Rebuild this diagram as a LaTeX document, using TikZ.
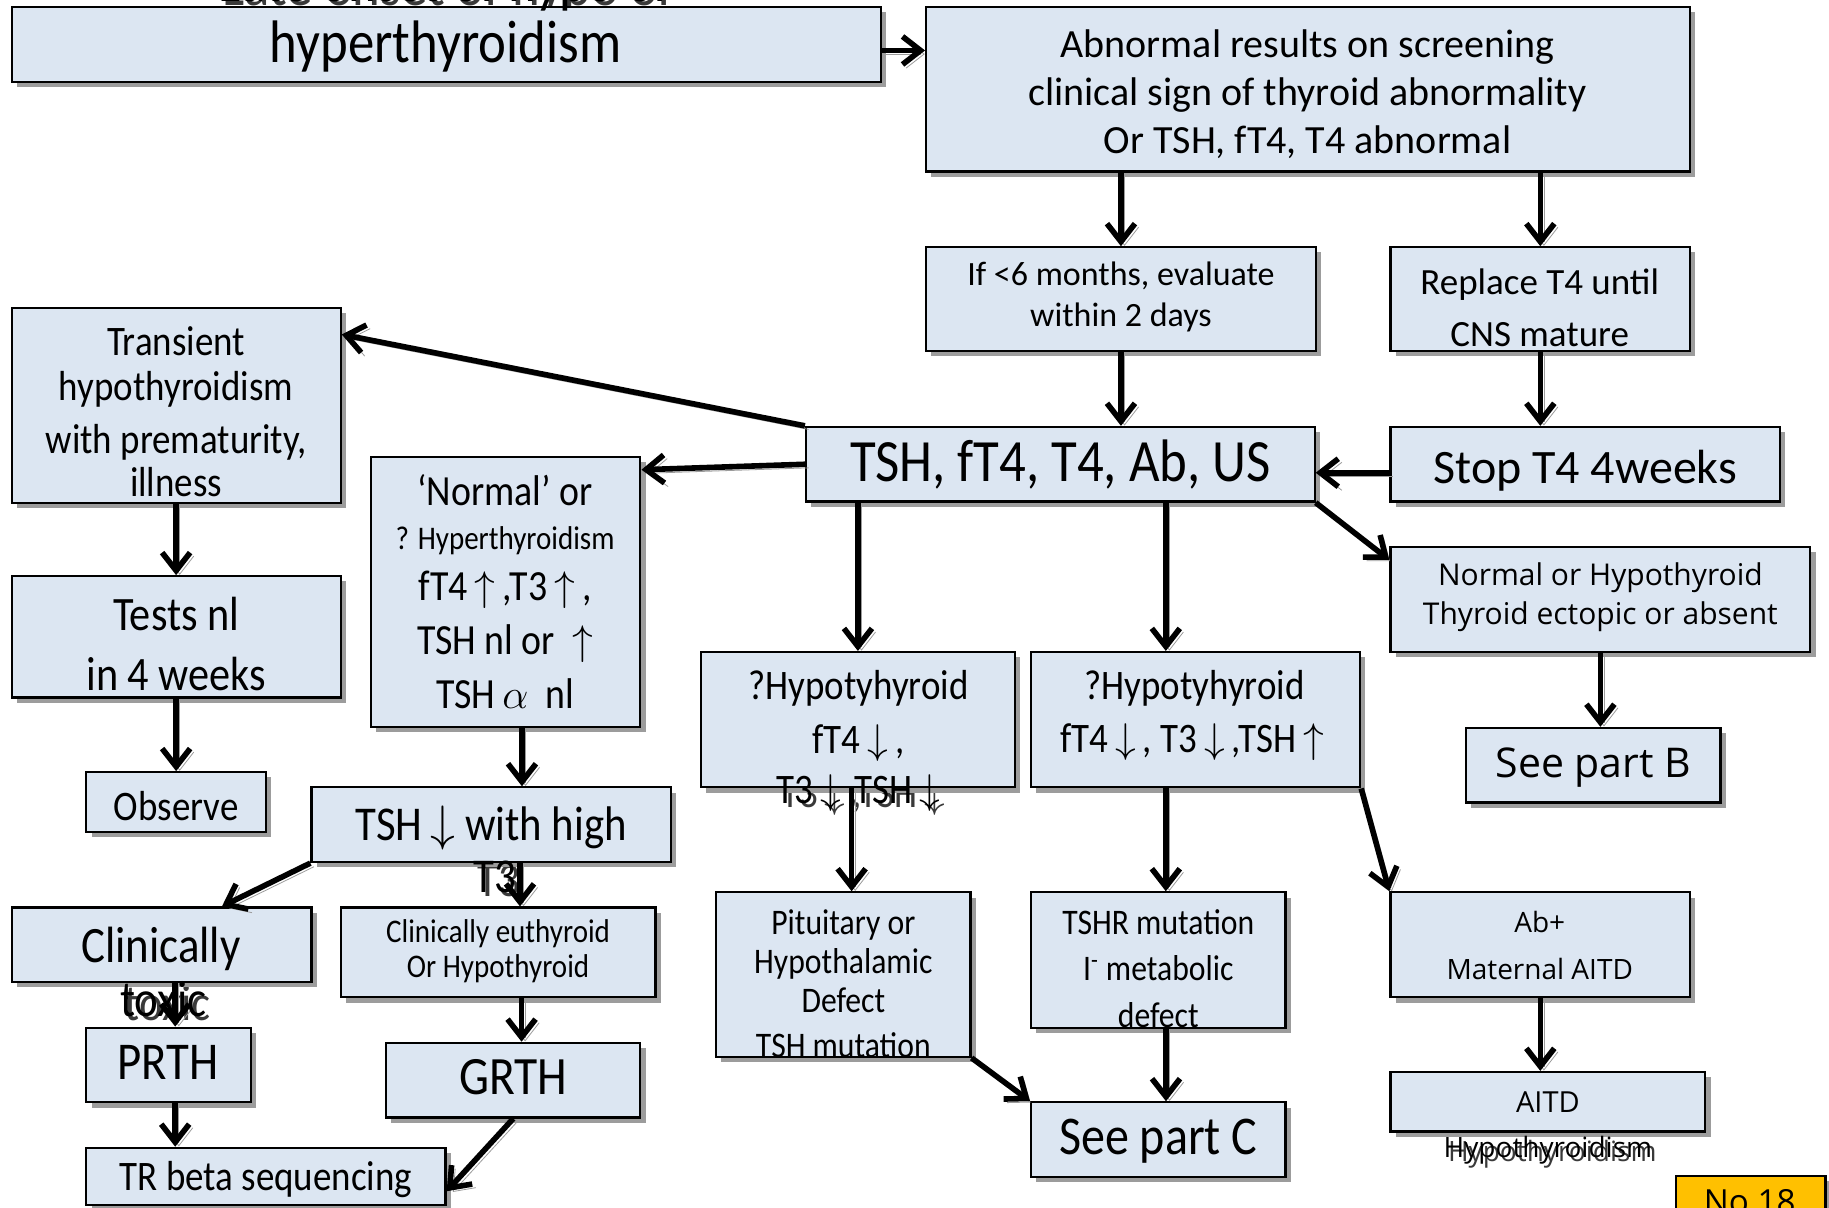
\documentclass[tikz,border=0pt]{standalone}
\usepackage{fontspec}
\setmainfont{Carlito}
\newfontfamily\condfont[FakeStretch=0.88]{Carlito}
\newfontfamily\widefont{Open Sans}
\usetikzlibrary{arrows.meta,shadows,fit,calc}
\definecolor{boxfill}{HTML}{DCE6F2}
\definecolor{boxshade}{HTML}{9C9C9C}
\definecolor{txtshade}{HTML}{3A3A3A}
\definecolor{badge}{HTML}{FFC000}
\pgfdeclarelayer{paper}
\pgfdeclarelayer{shade}
\pgfdeclarelayer{front}
\pgfsetlayers{paper,shade,main,front}

\tikzset{
  card/.style={draw=black, line width=1.1pt, fill=boxfill, inner sep=0pt,
    drop shadow={shadow xshift=2.6pt, shadow yshift=-2.6pt, fill=boxshade, opacity=1}},
  tl/.style={anchor=mid, inner sep=0pt},
  cnd/.style={font=\condfont\fontsize{#1}{#1}\selectfont, yshift={-0.22*#1pt}},
  pln/.style={font=\fontsize{#1}{#1}\selectfont, yshift={-0.22*#1pt}},
  wid/.style={font=\widefont\fontsize{#1}{#1}\selectfont, yshift={-0.22*#1pt}},
  link/.style={line width=2.8pt, -{Straight Barb[length=9pt,width=14pt]},
    preaction={draw=boxshade, transform canvas={shift={(1.8pt,-1.8pt)}}}},
}

% a box spanning two corners
\newcommand\cardbox[6][]{\node[card,#1,fit={(#3,#4) (#5,#6)}] (#2) {};}
% one line of text with its offset shadow underneath
\newcommand\tline[5][]{%
  \begin{pgfonlayer}{shade}
    \node[tl,#1,text=txtshade,xshift=2.2pt,yshift=-1.8pt] (#2-s) at (#3,#4) {#5};
  \end{pgfonlayer}
  \begin{pgfonlayer}{front}
    \node[tl,#1] (#2) at (#3,#4) {#5};
  \end{pgfonlayer}}

\begin{document}
\begin{tikzpicture}[x=0.5833pt,y=-0.5833pt]
\useasboundingbox (0,0) rectangle (1568,1035);
\begin{pgfonlayer}{paper}
  \fill[white] (0,0) rectangle (1568,1035);
\end{pgfonlayer}

% ---------- boxes ----------
\cardbox{A}{10}{6}{755}{70}
\cardbox{B}{794}{6}{1449}{147}
\cardbox{C}{794}{212}{1128}{301}
\cardbox{D}{1192}{212}{1449}{301}
\cardbox{E}{691}{366}{1127}{430}
\cardbox{F}{1192}{366}{1526}{430}
\cardbox{G}{10}{264}{292}{431}
\cardbox{H}{318}{392}{549}{623}
\cardbox{I}{10}{494}{292}{598}
\cardbox{J}{1192}{469}{1552}{559}
\cardbox{K}{601}{559}{870}{675}
\cardbox{L}{884}{559}{1166}{675}
\cardbox{M}{1257}{624}{1475}{688}
\cardbox{N}{74}{662}{228}{713}
\cardbox{O}{267}{675}{575}{739}
\cardbox{P}{10}{778}{267}{842}
\cardbox{Q}{292}{778}{562}{855}
\cardbox{R}{74}{881}{215}{945}
\cardbox{S}{331}{894}{549}{958}
\cardbox{T}{74}{984}{382}{1033}
\cardbox{U}{614}{765}{832}{906}
\cardbox{V}{884}{765}{1102}{881}
\cardbox{W}{1192}{765}{1449}{855}
\cardbox{X}{884}{945}{1102}{1009}
\cardbox{Y}{1192}{919}{1462}{970}
\cardbox[fill=badge]{Z}{1437}{1008}{1565}{1050}

% ---------- texts ----------
\tline[cnd=30]{tA0}{382}{-14}{Late onset of hypo or}
\tline[cnd=30]{tA1}{382}{38}{hyperthyroidism}

\tline[pln=20]{tB1}{1121}{38}{Abnormal results on screening}
\tline[pln=20]{tB2}{1121}{79}{clinical sign of thyroid abnormality}
\tline[pln=20]{tB3}{1121}{120}{Or TSH, fT4, T4 abnormal}

\tline[pln=17]{tC1}{961}{234}{If <6 months, evaluate}
\tline[pln=17]{tC2}{961}{269}{within 2 days}

\tline[pln=18.5]{tD1}{1320}{241}{Replace T4 until}
\tline[pln=18.5]{tD2}{1320}{286}{CNS mature}

\tline[cnd=30]{tE1}{909}{397}{TSH, fT4, T4, Ab, US}
\tline[pln=24]{tF1}{1359}{401}{Stop T4 4weeks}

\tline[cnd=21]{tG1}{151}{293}{Transient}
\tline[cnd=21]{tG2}{151}{331}{hypothyroidism}
\tline[cnd=21]{tG3}{151}{377}{with prematurity,}
\tline[cnd=21]{tG4}{151}{414}{illness}

\tline[cnd=21.5]{tH1}{433}{421}{‘Normal’ or}
\tline[cnd=16.5]{tH2}{433}{461}{? Hyperthyroidism}
\tline[cnd=21.5]{tH3}{433}{503}{fT4$\,\uparrow$\,,T3$\,\uparrow$\,,}
\tline[cnd=21.5]{tH4}{433}{549}{TSH nl or ~$\uparrow$}
\tline[cnd=21.5]{tH5}{433}{595}{TSH\,$\alpha$~ nl}

\tline[cnd=24]{tI1}{151}{527}{Tests nl}
\tline[cnd=24]{tI2}{151}{579}{in 4 weeks}

\tline[wid=15]{tJ1}{1372}{492}{Normal or Hypothyroid}
\tline[wid=15]{tJ2}{1372}{526}{Thyroid ectopic or absent}

\tline[cnd=21]{tK1}{736}{588}{?Hypotyhyroid}
\tline[cnd=21]{tK2}{736}{634}{fT4$\,\downarrow$\,,}
\tline[cnd=21]{tK3}{736}{677}{T3$\,\downarrow$\,,TSH$\,\downarrow$}

\tline[cnd=21]{tL1}{1024}{588}{?Hypotyhyroid}
\tline[cnd=21]{tL2}{1022}{633}{fT4$\,\downarrow$\,, T3$\,\downarrow$\,,TSH$\,\uparrow$}

\tline[wid=20.5]{tM1}{1366}{655}{See part B}
\tline[cnd=21]{tN1}{151}{691}{Observe}

\tline[cnd=24.3]{tO1}{421}{707}{TSH$\,\downarrow$ with high}
\tline[cnd=24.3]{tO2}{424}{752}{T3}

\tline[cnd=25.5]{tP1}{138}{811}{Clinically}
\tline[cnd=25.5]{tP2}{140}{858}{toxic}

\tline[cnd=16.5]{tQ1}{427}{798}{Clinically euthyroid}
\tline[cnd=16.5]{tQ2}{427}{828}{Or Hypothyroid}

\tline[cnd=26.6]{tR1}{144}{911}{PRTH}
\tline[cnd=27]{tS1}{440}{924}{GRTH}
\tline[cnd=21]{tT1}{228}{1009}{TR beta sequencing}

\tline[cnd=18]{tU1}{723}{790}{Pituitary or}
\tline[cnd=18]{tU2}{723}{824}{Hypothalamic}
\tline[cnd=18]{tU3}{723}{857}{Defect}
\tline[cnd=18]{tU4}{723}{896}{TSH mutation}

\tline[cnd=18]{tV1}{993}{790}{TSHR mutation}
\tline[cnd=18]{tV2}{993}{830}{I\textsuperscript{-} metabolic}
\tline[cnd=18]{tV3}{993}{870}{defect}

\tline[wid=14]{tW1}{1320}{790}{Ab+}
\tline[wid=14]{tW2}{1320}{830}{Maternal AITD}

\tline[cnd=27.3]{tX1}{993}{975}{See part C}

\tline[wid=14.5]{tY1}{1327}{944}{AITD}
\tline[wid=14]{tY2}{1327}{983}{Hypothyroidism}

\begin{pgfonlayer}{front}
  \node[tl,wid=16.6] (tZ1) at (1500,1030) {No 18};
\end{pgfonlayer}

% ---------- connectors ----------
\coordinate (Ltop) at ($(L.north west)!0.41!(L.north east)$);
\coordinate (Hb) at ($(H.south west)!0.56!(H.south east)$);
\coordinate (Ob) at ($(O.south west)!0.58!(O.south east)$);
\coordinate (Rt) at ($(R.north west)!0.54!(R.north east)$);
\coordinate (Qb) at ($(Q.south west)!0.574!(Q.south east)$);
\coordinate (Kb) at ($(K.south west)!0.48!(K.south east)$);
\coordinate (Vb) at ($(V.south west)!0.53!(V.south east)$);
\coordinate (Ae) at ($(A.north east)!0.58!(A.south east)$);
\coordinate (Fw) at ($(F.north west)!0.61!(F.south west)$);

\draw[link] (Ae) -- (Ae -| B.west);
\draw[link] (B.south -| C.north) -- (C.north);
\draw[link] (B.south -| D.north) -- (D.north);
\draw[link] (C.south) -- (C.south |- E.north);
\draw[link] (D.south) -- (D.south |- F.north);
\draw[link] (Fw) -- (Fw -| E.east);
\draw[link] (E.north west) -- ($(G.north east)!0.14!(G.south east)$);
\draw[link] (E.west) -- ($(H.north east)!0.05!(H.south east)$);
\draw[link] (K.north |- E.south) -- (K.north);
\draw[link] (Ltop |- E.south) -- (Ltop);
\draw[link] (E.south east) -- ($(J.north west)!0.13!(J.south west)$);
\draw[link] (G.south) -- (I.north);
\draw[link] (I.south) -- (N.north);
\draw[link] (Hb) -- (Hb |- O.north);
\draw[link] (O.south west) -- ($(P.north west)!0.7!(P.north east)$);
\draw[link] (Ob) -- (Ob |- Q.north);
\draw[link] (Rt |- P.south) -- (Rt);
\draw[link] (Qb) -- (Qb |- S.north);
\draw[link] (Rt |- R.south) -- (Rt |- T.north);
\draw[link] (S.south) -- ($(T.north east)!0.75!(T.south east)$);
\draw[link] (J.south) -- (J.south |- M.north);
\draw[link] (Kb) -- (Kb |- U.north);
\draw[link] (Ltop |- L.south) -- (Ltop |- V.north);
\draw[link] (L.south east) -- (W.north west);
\draw[link] (U.south east) -- (X.north west);
\draw[link] (Vb) -- (Vb |- X.north);
\draw[link] (W.south) -- (W.south |- Y.north);
\end{tikzpicture}
\end{document}
